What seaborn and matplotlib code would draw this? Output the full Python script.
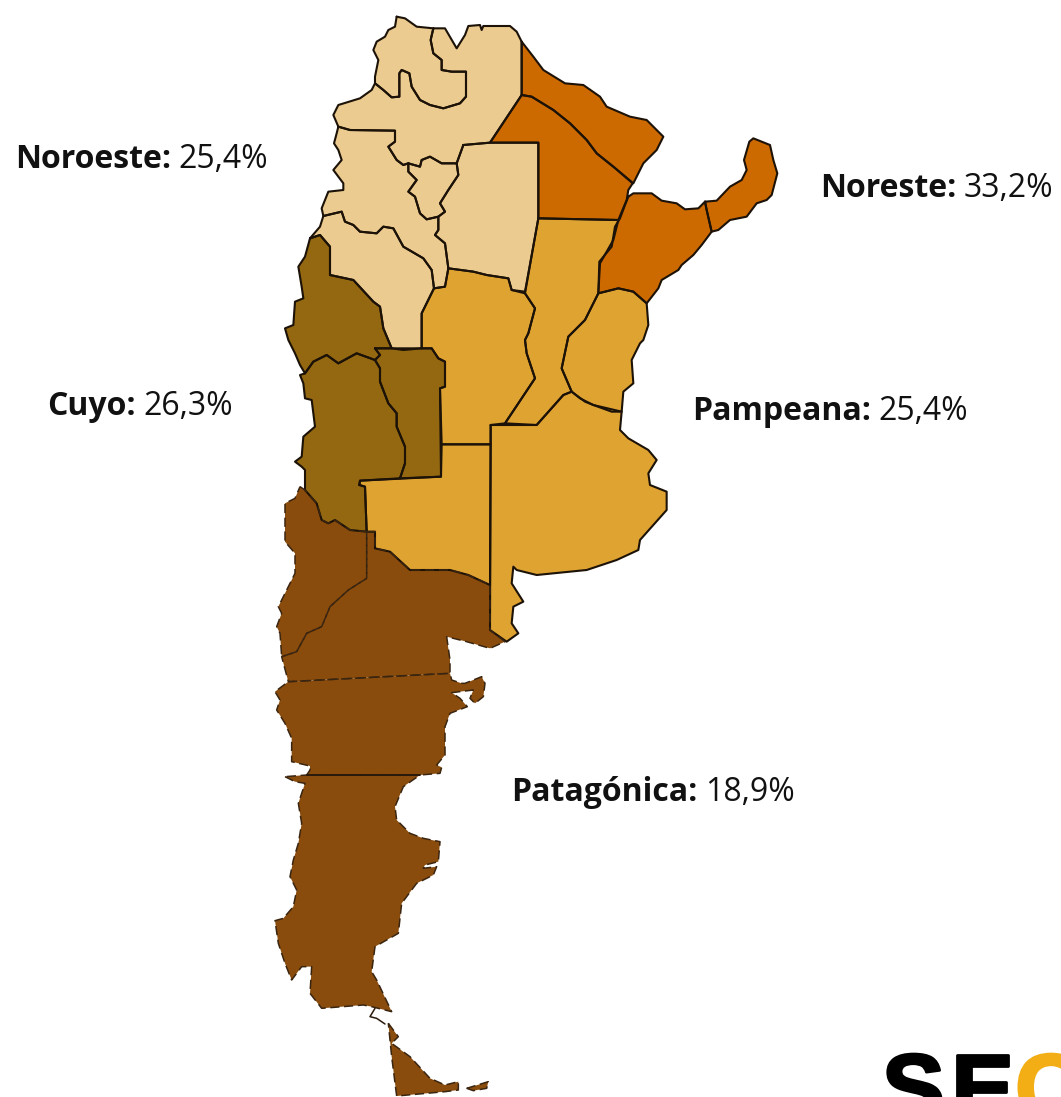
"""Poverty by region, Argentina: province map with region labels."""
import pandas as pd
import matplotlib.pyplot as plt
import matplotlib.patheffects as pe
import seaborn as sns

# province outlines (grid: 3 units per pixel, x starts at pixel 260)
JUJUY = [(410,50),(435,55),(470,80),(520,85),(512,120),(520,160),(545,180),(545,210),(575,215),(618,215),
         (618,290),(600,310),(550,325),(510,315),(480,300),(455,260),(448,220),(425,210),(418,220),(418,290),
         (395,292),(370,270),(345,250),(345,230),(355,180),(340,150),(350,125),(375,110),(385,90),(405,80)]
SALTA = [(520,85),(555,85),(590,145),(615,105),(625,78),(660,75),(665,90),(670,78),(750,78),(770,95),(785,125),
         (785,285),(690,428),(610,435),(590,490),(545,490),(510,470),(485,480),(480,500),(445,490),(430,495),
         (410,480),(385,440),(405,425),(405,392),(270,390),(235,380),(220,345),(235,315),(300,295),(335,270),
         (345,250),(370,270),(395,292),(418,290),(418,220),(425,210),(448,220),(455,260),(480,300),(510,315),
         (550,325),(600,310),(618,290),(618,215),(575,215),(545,210),(545,180),(520,160),(512,120)]
CATAMARCA = [(235,380),(270,390),(405,392),(405,425),(385,440),(410,480),(430,495),(445,490),(445,515),(470,540),
             (445,575),(465,590),(480,640),(500,658),(535,650),(535,690),(525,705),(555,730),(565,805),(555,860),
             (522,865),(515,810),(490,775),(430,740),(400,685),(370,680),(350,700),(300,695),(280,675),(255,665),
             (245,635),(190,648),(185,625),(205,575),(250,570),(250,550),(220,510),(245,480),(235,450),(222,430),(230,400)]
TUCUMAN = [(445,490),(480,500),(485,480),(510,470),(545,490),(590,490),(595,525),(565,570),(540,610),(555,635),
           (535,650),(500,658),(480,640),(465,590),(445,575),(470,540),(445,515)]
SANTIAGO = [(610,435),(690,428),(835,428),(835,655),(795,875),(755,870),(745,835),(680,825),(640,815),(565,805),
            (555,730),(525,705),(535,690),(535,650),(555,635),(540,610),(565,570),(595,525),(590,490)]
LA_RIOJA = [(150,715),(180,680),(190,648),(245,635),(255,665),(280,675),(300,695),(350,700),(370,680),(400,685),
            (430,740),(490,775),(515,810),(522,865),(485,940),(485,1045),(430,1050),(395,1045),(370,985),(360,920),
            (340,905),(280,840),(210,825),(210,740),(180,705)]

FORMOSA = [(785,125),(820,170),(850,210),(915,250),(970,255),(1020,290),(1040,320),(1110,350),(1160,360),(1210,410),
           (1190,450),(1150,490),(1120,550),(1060,500),(1010,460),(980,420),(930,370),(880,330),(815,290),(785,285)]
CHACO = [(785,285),(815,290),(880,330),(930,370),(980,420),(1010,460),(1060,500),(1118,550),(1105,570),(1100,600),
         (1075,660),(835,655),(835,428),(690,428)]
CORRIENTES = [(1105,590),(1120,580),(1175,580),(1205,602),(1250,610),(1275,628),(1315,625),(1335,605),(1340,630),
              (1355,695),(1325,735),(1300,765),(1265,795),(1255,810),(1205,840),(1195,865),(1160,910),(1120,875),
              (1075,865),(1015,880),(1018,785),(1055,740),(1065,680),(1080,655),(1095,615)]
MISIONES = [(1335,605),(1370,602),(1410,560),(1445,540),(1460,510),(1452,480),(1468,425),(1480,415),(1530,435),
            (1540,480),(1552,520),(1535,585),(1520,600),(1490,610),(1460,650),(1410,660),(1375,690),(1355,695),(1340,630)]

SAN_JUAN = [(150,715),(180,705),(210,740),(210,825),(280,840),(340,905),(360,920),(370,985),(395,1045),(345,1045),
            (360,1065),(345,1080),(290,1060),(235,1090),(200,1065),(160,1085),(135,1120),(120,1095),(105,1060),
            (85,1020),(75,985),(100,975),(105,905),(130,895),(125,860),(115,800),(135,770)]
MENDOZA = [(135,1120),(160,1085),(200,1065),(235,1090),(290,1060),(345,1080),(360,1105),(360,1145),(385,1210),
           (410,1240),(410,1280),(435,1340),(435,1390),(420,1435),(300,1442),(298,1455),(315,1460),(320,1595),
           (270,1590),(225,1560),(205,1570),(185,1560),(170,1510),(135,1470),(135,1410),(125,1400),(105,1385),
           (125,1370),(130,1310),(165,1280),(155,1200),(135,1195),(130,1150),(120,1125)]
SAN_LUIS = [(345,1045),(515,1045),(535,1075),(555,1085),(555,1160),(540,1165),(543,1430),(420,1435),(435,1390),
            (435,1340),(410,1280),(410,1240),(385,1210),(360,1145),(360,1105),(345,1080),(360,1065)]

CORDOBA = [(565,805),(640,815),(680,825),(745,835),(755,870),(795,880),(825,925),(805,1000),(795,1020),(800,1060),
           (825,1135),(735,1270),(692,1275),(692,1333),(545,1333),(540,1165),(555,1160),(555,1085),(535,1075),
           (515,1045),(485,1045),(485,940),(522,865),(555,860)]
SANTA_FE = [(835,655),(1075,660),(1060,720),(1020,790),(1015,880),(975,960),(925,1010),(905,1105),(935,1175),
            (910,1185),(830,1275),(735,1270),(825,1135),(800,1060),(795,1020),(805,1000),(825,925),(795,880)]
ENTRE_RIOS = [(1015,880),(1075,865),(1120,875),(1160,910),(1165,975),(1150,1020),(1140,1030),(1115,1080),(1120,1150),
              (1090,1175),(1085,1235),(1055,1235),(1000,1215),(960,1195),(935,1175),(905,1105),(925,1010),(975,960)]
BUENOS_AIRES = [(692,1275),(830,1275),(910,1185),(935,1175),(975,1205),(1000,1215),(1085,1235),(1080,1290),(1105,1315),
                (1165,1350),(1190,1380),(1165,1420),(1170,1455),(1220,1475),(1220,1530),(1140,1620),(1135,1650),
                (1070,1680),(980,1710),(830,1725),(770,1710),(760,1700),(755,1750),(790,1805),(760,1820),(755,1870),
                (775,1900),(740,1925),(690,1890)]
LA_PAMPA = [(298,1455),(300,1442),(543,1430),(545,1333),(692,1333),(690,1755),(625,1725),(570,1710),(450,1710),
            (390,1655),(345,1645),(345,1595),(320,1595),(315,1460)]

NEUQUEN = [(120,1460),(135,1470),(170,1510),(185,1560),(205,1570),(225,1560),(270,1590),(320,1595),(320,1735),
           (265,1770),(210,1820),(185,1880),(140,1900),(110,1955),(65,1970),(60,1900),(50,1880),(65,1840),(55,1820),
           (85,1760),(105,1720),(105,1660),(75,1625),(75,1510),(105,1495)]
RIO_NEGRO = [(320,1595),(345,1595),(345,1645),(390,1655),(450,1710),(570,1710),(625,1725),(690,1755),(690,1890),
             (735,1925),(690,1945),(620,1925),(560,1910),(570,1980),(570,2020),(85,2045),(65,1970),(110,1955),
             (140,1900),(185,1880),(210,1820),(265,1770),(320,1735)]
CHUBUT = [(85,2045),(570,2020),(575,2040),(605,2050),(615,2050),(665,2030),(675,2050),(670,2090),(645,2110),(630,2095),
          (640,2070),(575,2078),(600,2095),(622,2120),(570,2140),(555,2180),(555,2265),(530,2295),(545,2302),(540,2320),
          (480,2325),(140,2325),(150,2310),(150,2298),(95,2285),(95,2215),(75,2170),(50,2130),(60,2100),(45,2075)]
SANTA_CRUZ = [(75,2330),(105,2345),(135,2350),(115,2410),(125,2470),(115,2530),(100,2580),(90,2630),(110,2670),
              (100,2720),(70,2755),(45,2762),(55,2830),(75,2890),(95,2940),(125,2900),(155,2900),(150,2980),(185,3025),
              (310,3015),(335,3020),(395,3035),(350,2940),(335,2915),(345,2840),(415,2800),(425,2710),(470,2650),
              (520,2625),(530,2600),(490,2605),(495,2595),(535,2585),(540,2525),(490,2515),(450,2500),(410,2460),
              (405,2420),(430,2360),(480,2325),(140,2325)]
TIERRA_FUEGO = [(385,3070),(415,3110),(395,3130),(450,3170),(510,3235),(555,3255),(595,3245),(595,3270),(555,3275),
                (410,3288),(395,3170),(390,3120)]
ESTADOS = [(620,3265),(685,3245),(680,3265),(640,3272)]
MAGALLANES = [(345,3025),(330,3050),(350,3055),(375,3072)]
CHUBUT_SOUTH = [(140,2325),(480,2325)]

REGIONS = {
    "Noroeste": [JUJUY, SALTA, CATAMARCA, TUCUMAN, SANTIAGO, LA_RIOJA],
    "Noreste": [FORMOSA, CHACO, CORRIENTES, MISIONES],
    "Cuyo": [SAN_JUAN, MENDOZA, SAN_LUIS],
    "Pampeana": [CORDOBA, SANTA_FE, ENTRE_RIOS, BUENOS_AIRES, LA_PAMPA],
    "Patagónica": [NEUQUEN, RIO_NEGRO, CHUBUT, SANTA_CRUZ, TIERRA_FUEGO, ESTADOS],
}
COLORS = {"Noroeste": "#EBCB8F", "Noreste": "#CC6A00", "Cuyo": "#936810",
          "Pampeana": "#DFA332", "Patagónica": "#8A4C0C"}
LABELS = ["Noroeste:", "Noreste:", "Cuyo:", "Pampeana:", "Patagónica:"]
VALUES = ["25,4%", "33,2%", "26,3%", "25,4%", "18,9%"]
LABEL_PX = [(15, 168), (820, 197), (47, 415), (692, 420), (511, 801)]

sns.set_theme(style="white")
plt.rcParams["font.family"] = ["Open Sans", "DejaVu Sans"]

fig = plt.figure(figsize=(10.61, 10.97), dpi=100)
ax = fig.add_axes([0, 0, 1, 1])

for region, shapes in REGIONS.items():
    rows = []
    for i, shape in enumerate(shapes):
        ax.fill([p[0] for p in shape], [p[1] for p in shape], color=COLORS[region], lw=0, zorder=1)
        for x, y in shape + shape[:1]:
            rows.append({"shape": i, "x": x, "y": y})
    patagonia = region == "Patagónica"
    sns.lineplot(data=pd.DataFrame(rows), x="x", y="y", units="shape", estimator=None, sort=False,
                 color="#3a2510" if patagonia else "#1c1208", lw=1.1 if patagonia else 1.5,
                 linestyle=(0, (6, 3)) if patagonia else "-", ax=ax, zorder=2)

for seg, w in [(MAGALLANES, 1.1), (CHUBUT_SOUTH, 1.4)]:
    ax.plot([p[0] for p in seg], [p[1] for p in seg], color="#2a1a0c", lw=w, zorder=3)
ax.set_xlim(-780, 2403)
ax.set_ylim(3291, 0)
ax.set_axis_off()

for label, value, (px, py) in zip(LABELS, VALUES, LABEL_PX):
    t = fig.text(px / 1061, 1 - py / 1097, label, fontsize=23, fontweight="bold", color="#111111", va="baseline")
    ax.annotate(value, xy=(1, 0), xycoords=t, xytext=(5.5, 0), textcoords="offset points",
                fontsize=23, color="#111111", va="bottom")

# logo, cut off by the bottom of the picture
for letter, lx, col in [("S", 882, "#000000"), ("E", 951, "#000000"), ("C", 1015, "#F2AE14")]:
    t = fig.text(lx / 1061, 1 - 1120 / 1097, letter, fontsize=68, fontweight="bold", color=col,
                 family="Liberation Sans", va="baseline")
    t.set_path_effects([pe.withStroke(linewidth=2, foreground=col)])

fig.savefig("out.png", dpi=100)
